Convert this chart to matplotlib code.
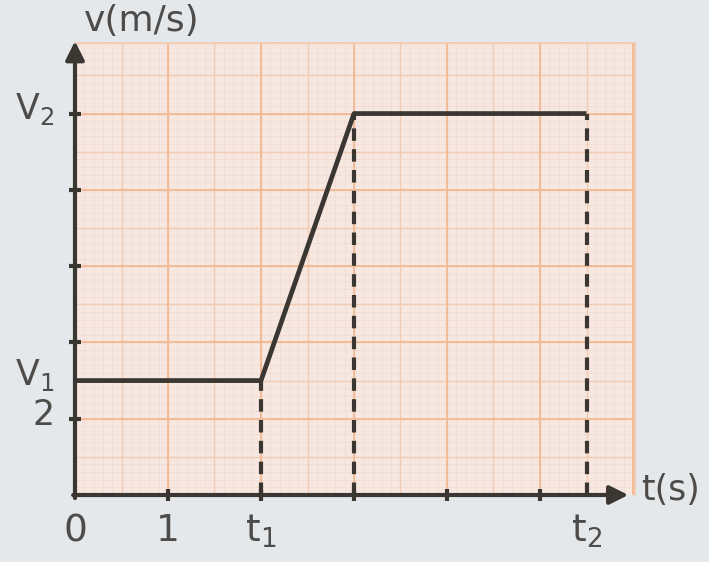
import matplotlib.pyplot as plt
import matplotlib.transforms as mtransforms
import numpy as np

# velocity-time data (t1 = 2 s, t2 = 5.5 s, V1 = 3, V2 = 10)
t_points = [0, 2, 3, 5.5]
v_points = [3, 3, 10, 10]
dashed_t = [2, 3, 5.5]
dashed_v = [3, 10, 10]

x_ticks = [0, 1, 2, 3, 4, 5, 5.5]
x_labels = ['0', '1', r'$\mathregular{t_1}$', '', '', '', r'$\mathregular{t_2}$']
y_ticks = [2, 3, 4, 6, 8, 10]
y_labels = ['2', r'$\mathregular{V_1}$', '', '', '', r'$\mathregular{V_2}$']

x_max = 6.02
y_max = 11.85

bg = '#e4e8ea'
ink = '#3a3632'
text_col = '#4e4c4a'

fig = plt.figure(figsize=(7.09, 5.62), dpi=100, facecolor=bg)
ax = fig.add_axes([75 / 709, 67 / 562, (x_max * 93) / 709, 452 / 562])
ax.set_facecolor('#f7e7e1')
ax.set_xlim(0, x_max)
ax.set_ylim(0, y_max)

# graph paper: fine, medium and major lines
for x in np.arange(0, x_max, 0.1):
    ax.axvline(x, color='#f2dad0', lw=0.5, zorder=0)
for y in np.arange(0, y_max, 0.2):
    ax.axhline(y, color='#f2dad0', lw=0.5, zorder=0)
for x in np.arange(0.5, x_max, 0.5):
    ax.axvline(x, color='#f3cbb1', lw=1.0, zorder=0.5)
for y in np.arange(1, y_max, 1):
    ax.axhline(y, color='#f3cbb1', lw=1.0, zorder=0.5)
for x in np.arange(1, x_max, 1):
    ax.axvline(x, color='#f1ba94', lw=1.3, zorder=0.6)
for y in np.arange(2, y_max, 2):
    ax.axhline(y, color='#f1ba94', lw=1.3, zorder=0.6)

for s in ['top', 'right']:
    ax.spines[s].set_color('#f2c8ac')
    ax.spines[s].set_linewidth(1.2)
for s in ['left', 'bottom']:
    ax.spines[s].set_visible(False)

# main curve
ax.plot(t_points, v_points, color=ink, lw=3.4, solid_joinstyle='round',
        solid_capstyle='butt', zorder=5)

# dashed projections
for t, v in zip(dashed_t, dashed_v):
    ax.plot([t, t], [0, v], color=ink, lw=3, dashes=(3, 2), zorder=4)

# axes with arrows
ax.annotate('', xy=(0, y_max + 0.05), xytext=(0, -0.08),
            arrowprops=dict(arrowstyle='-|>', color=ink, lw=3, mutation_scale=28,
                            shrinkA=0, shrinkB=0),
            annotation_clip=False, zorder=6)
ax.annotate('', xy=(5.95, 0), xytext=(-0.02, 0),
            arrowprops=dict(arrowstyle='-|>', color=ink, lw=3, mutation_scale=28,
                            shrinkA=0, shrinkB=0),
            annotation_clip=False, zorder=6)

ax.set_xticks(x_ticks)
ax.set_xticklabels(x_labels, fontsize=27, color=text_col)
ax.set_yticks(y_ticks)
ax.set_yticklabels(y_labels, fontsize=25, color=text_col)
ax.tick_params(axis='both', direction='inout', length=8, width=3, color=ink)
ax.tick_params(axis='x', pad=9)
ax.tick_params(axis='y', pad=11)

# no tick marks where the curve / dashed lines meet the axes
ax.yaxis.get_major_ticks()[1].tick1line.set_visible(False)
ax.xaxis.get_major_ticks()[6].tick1line.set_visible(False)
ax.xaxis.get_major_ticks()[0].tick1line.set_visible(False)

# place V1 just above "2", as in the reference
ylbls = ax.get_yticklabels()
ylbls[0].set_va('top')
ylbls[0].set_transform(ylbls[0].get_transform() +
                       mtransforms.ScaledTranslation(0, 21 / 100, fig.dpi_scale_trans))
ylbls[1].set_va('bottom')
ylbls[1].set_transform(ylbls[1].get_transform() +
                       mtransforms.ScaledTranslation(0, -12 / 100, fig.dpi_scale_trans))
ylbls[5].set_transform(ylbls[5].get_transform() +
                       mtransforms.ScaledTranslation(0, 9 / 100, fig.dpi_scale_trans))

fig.text(142 / 709, 1 - 21 / 562, 'v(m/s)', fontsize=26, color=text_col,
         ha='center', va='center')
fig.text(670 / 709, 1 - 490 / 562, 't(s)', fontsize=25, color=text_col,
         ha='center', va='center')

fig.savefig('out.png', dpi=100, facecolor=bg)
